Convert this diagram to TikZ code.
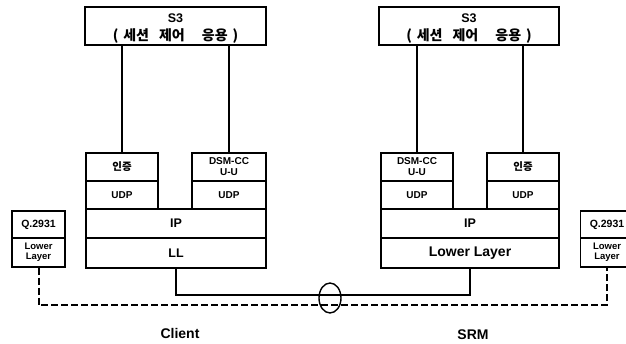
\documentclass[tikz,border=0pt]{standalone}
\usepackage{fontspec}
\setmainfont{Liberation Sans}
\newfontfamily\kor{Noto Sans CJK KR}
\usetikzlibrary{shapes.geometric}
% Korean title line of the S3 boxes
\newcommand{\sessline}{{\kor\bfseries\fontsize{14}{19}\selectfont (\hspace{5pt}세션\hspace{10pt}제어\hspace{17pt}응용\hspace{5pt})}}
\begin{document}
\begin{tikzpicture}[x=1pt, y=-1pt,
  box/.style={draw, line width=1.2pt, inner sep=0pt, align=center},
  txt/.style={font=\bfseries\fontsize{#1}{#1}\selectfont},
  wire/.style={line width=1.7pt}]
\useasboundingbox (0,0) rectangle (626,344);

% client stack
\node[box, minimum width=181, minimum height=38, font=\bfseries\fontsize{12.5}{18}\selectfont] (cs3) at (175.5,26) {\rule{0pt}{14pt}S3\\\sessline};
\node[box, txt=10.5, minimum width=72, minimum height=28] (cauth) at (122,167) {\kor 인증};
\node[box, txt=10, minimum width=72, minimum height=28] (cudp1) at (122,195) {UDP};
\node[box, minimum width=74, minimum height=28, font=\bfseries\fontsize{10}{11}\selectfont] (cdsm) at (229,167) {DSM-CC\\U-U};
\node[box, txt=10, minimum width=74, minimum height=28] (cudp2) at (229,195) {UDP};
\node[box, txt=12.5, minimum width=180, minimum height=29] (cip) at (176,223.5) {IP};
\node[box, txt=12.5, minimum width=180, minimum height=30] (cll) at (176,253) {LL};
\node[box, txt=10.5, minimum width=53, minimum height=27] (cq) at (38.5,224.5) {Q.2931};
\node[box, minimum width=53, minimum height=29, font=\bfseries\fontsize{9.5}{10}\selectfont] (clow) at (38.5,252.5) {Lower\\Layer};

% SRM stack
\node[box, minimum width=180, minimum height=38, font=\bfseries\fontsize{12.5}{18}\selectfont] (rs3) at (469,26) {\rule{0pt}{14pt}S3\\\sessline};
\node[box, minimum width=72, minimum height=28, font=\bfseries\fontsize{10}{11}\selectfont] (rdsm) at (417,167) {DSM-CC\\U-U};
\node[box, txt=10, minimum width=72, minimum height=28] (rudp1) at (417,195) {UDP};
\node[box, txt=10.5, minimum width=72, minimum height=28] (rauth) at (523,167) {\kor 인증};
\node[box, txt=10, minimum width=72, minimum height=28] (rudp2) at (523,195) {UDP};
\node[box, txt=12.5, minimum width=178, minimum height=29] (rip) at (470,223.5) {IP};
\node[box, txt=14, minimum width=178, minimum height=30] (rll) at (470,253) {Lower Layer};
\node[box, txt=10.5, minimum width=53, minimum height=27] (rq) at (607,224.5) {Q.2931};
\node[box, minimum width=53, minimum height=29, font=\bfseries\fontsize{9.5}{10}\selectfont] (rlow) at (607,252.5) {Lower\\Layer};

% links
\draw[wire] (cauth.north |- cs3.south) -- (cauth.north);
\draw[wire] (cdsm.north |- cs3.south) -- (cdsm.north);
\draw[wire] (rdsm.north |- rs3.south) -- (rdsm.north);
\draw[wire] (rauth.north |- rs3.south) -- (rauth.north);
\draw[line width=2pt] (cll.south) -- ++(0,26.5) -| (rll.south);
\draw[line width=2pt, dash pattern=on 7pt off 3pt] (clow.south) -- ++(0,37.5) -| (rlow.south);
\node[draw, ellipse, line width=1.4pt, minimum width=22, minimum height=30, inner sep=0pt] (tap) at (330,298) {};

\node[txt=14] (client) at (180,333) {Client};
\node[txt=14] (srm) at (473,335) {SRM};
\end{tikzpicture}
\end{document}
